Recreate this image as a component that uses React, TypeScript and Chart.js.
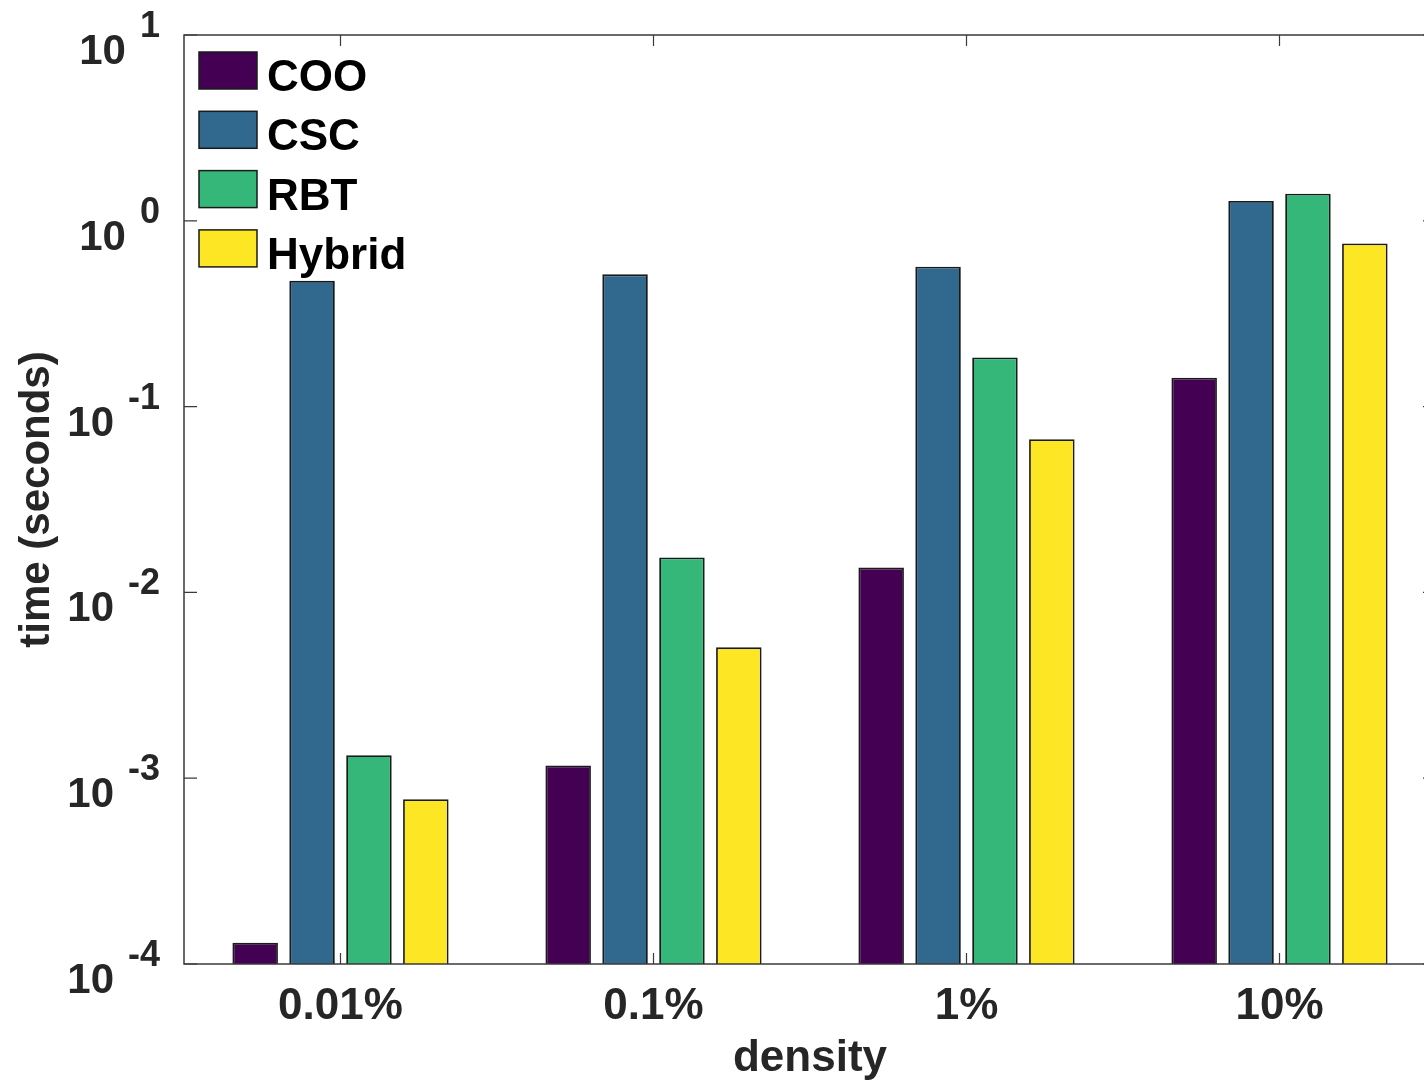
import React, { useEffect, useRef } from "react";
import { Chart, registerables } from "chart.js";

Chart.register(...registerables);

const categories = ["0.01%", "0.1%", "1%", "10%"];
const seriesNames = ["COO", "CSC", "RBT", "Hybrid"];
const seriesColors = ["#440154", "#31688E", "#35B779", "#FDE725"];
const cooValues = [1.3e-4, 1.17e-3, 0.0136, 0.143];
const cscValues = [0.475, 0.515, 0.566, 1.28];
const rbtValues = [1.33e-3, 0.0154, 0.184, 1.4];
const hybridValues = [7.7e-4, 5.06e-3, 0.0668, 0.755];
const yTickValues = [1e-4, 1e-3, 1e-2, 1e-1, 1, 10];
const yTickExponents = ["-4", "-3", "-2", "-1", "0", "1"];

const FONT = "'Liberation Sans', Arial, Helvetica, sans-serif";
const TEXT = "#262626";

export default function App() {
  const ref = useRef<HTMLCanvasElement | null>(null);

  useEffect(() => {
    const canvas = ref.current;
    if (!canvas) return;

    const framePlugin = {
      id: "frame",
      afterDatasetsDraw(chart: any) {
        const { ctx, chartArea } = chart;
        const { left, right, top, bottom } = chartArea;
        const y = chart.scales.y;
        const x = chart.scales.x;
        ctx.save();
        ctx.strokeStyle = "#3a3a3a";
        ctx.lineWidth = 1.5;
        ctx.strokeRect(left, top, right - left, bottom - top);
        ctx.lineWidth = 1.2;
        ctx.beginPath();
        yTickValues.forEach((v) => {
          const py = y.getPixelForValue(v);
          ctx.moveTo(left, py);
          ctx.lineTo(left + 13, py);
          ctx.moveTo(right, py);
          ctx.lineTo(right - 13, py);
        });
        categories.forEach((_, i) => {
          const px = x.getPixelForValue(i);
          ctx.moveTo(px, bottom);
          ctx.lineTo(px, bottom - 11);
          ctx.moveTo(px, top);
          ctx.lineTo(px, top + 11);
        });
        ctx.stroke();

        // y tick labels with superscripts
        ctx.fillStyle = TEXT;
        ctx.textBaseline = "alphabetic";
        const rightEdge = 160;
        yTickValues.forEach((v, i) => {
          const py = y.getPixelForValue(v);
          ctx.font = `bold 36px ${FONT}`;
          const sup = yTickExponents[i];
          const supW = ctx.measureText(sup).width;
          ctx.textAlign = "right";
          ctx.fillText(sup, rightEdge, py + 2);
          ctx.font = `bold 42px ${FONT}`;
          ctx.fillText("10", rightEdge - supW - 14, py + 29);
        });

        // legend
        const boxX = left + 15;
        const boxW = 58;
        const boxH = 37;
        const rowTop = top + 17;
        const step = 59.3;
        chart.data.datasets.forEach((ds: any, i: number) => {
          const by = rowTop + i * step;
          ctx.fillStyle = ds.backgroundColor;
          ctx.fillRect(boxX, by, boxW, boxH);
          ctx.strokeStyle = "#1a1a1a";
          ctx.lineWidth = 1.5;
          ctx.strokeRect(boxX, by, boxW, boxH);
          ctx.fillStyle = "#000";
          ctx.font = `bold 44px ${FONT}`;
          ctx.textAlign = "left";
          ctx.fillText(ds.label, boxX + boxW + 10, by + 39);
        });
        ctx.restore();
      },
    };

    const valuesList = [cooValues, cscValues, rbtValues, hybridValues];

    const chart = new Chart(canvas, {
      type: "bar",
      data: {
        labels: categories,
        datasets: seriesNames.map((name, i) => ({
          label: name,
          data: valuesList[i],
          backgroundColor: seriesColors[i],
          borderColor: "#1a1a1a",
          borderWidth: 1.8,
          categoryPercentage: 0.727,
          barPercentage: 0.8,
        })),
      },
      options: {
        responsive: false,
        animation: false,
        devicePixelRatio: 1,
        layout: { padding: { left: 0, top: 35, right: 4, bottom: 0 } },
        plugins: {
          legend: { display: false },
          tooltip: { enabled: false },
        },
        scales: {
          x: {
            type: "category",
            offset: true,
            grid: { display: false, drawTicks: false },
            border: { display: false },
            ticks: {
              color: TEXT,
              font: { family: FONT, size: 44, weight: "bold" },
              padding: 16,
              maxRotation: 0,
            },
            title: {
              display: true,
              text: "density",
              color: TEXT,
              font: { family: FONT, size: 44, weight: "bold" },
              padding: { top: 0, bottom: -5 },
            },
            afterFit: (scale: any) => {
              scale.height = 116;
            },
          },
          y: {
            type: "logarithmic",
            min: 1e-4,
            max: 10,
            grid: { display: false, drawTicks: false },
            border: { display: false },
            ticks: { display: false },
            title: {
              display: true,
              text: "time (seconds)",
              color: TEXT,
              font: { family: FONT, size: 42, weight: "bold" },
              padding: { top: 12, bottom: 0 },
            },
            afterFit: (scale: any) => {
              scale.width = 184;
            },
          },
        },
      } as any,
      plugins: [framePlugin],
    });

    return () => chart.destroy();
  }, []);

  return (
    <div
      style={{
        position: "fixed",
        left: 0,
        top: 0,
        width: 1424,
        height: 1080,
        overflow: "hidden",
        background: "#fff",
      }}
    >
      <canvas
        ref={ref}
        width={1440}
        height={1080}
        style={{ width: 1440, height: 1080, display: "block" }}
      />
    </div>
  );
}
